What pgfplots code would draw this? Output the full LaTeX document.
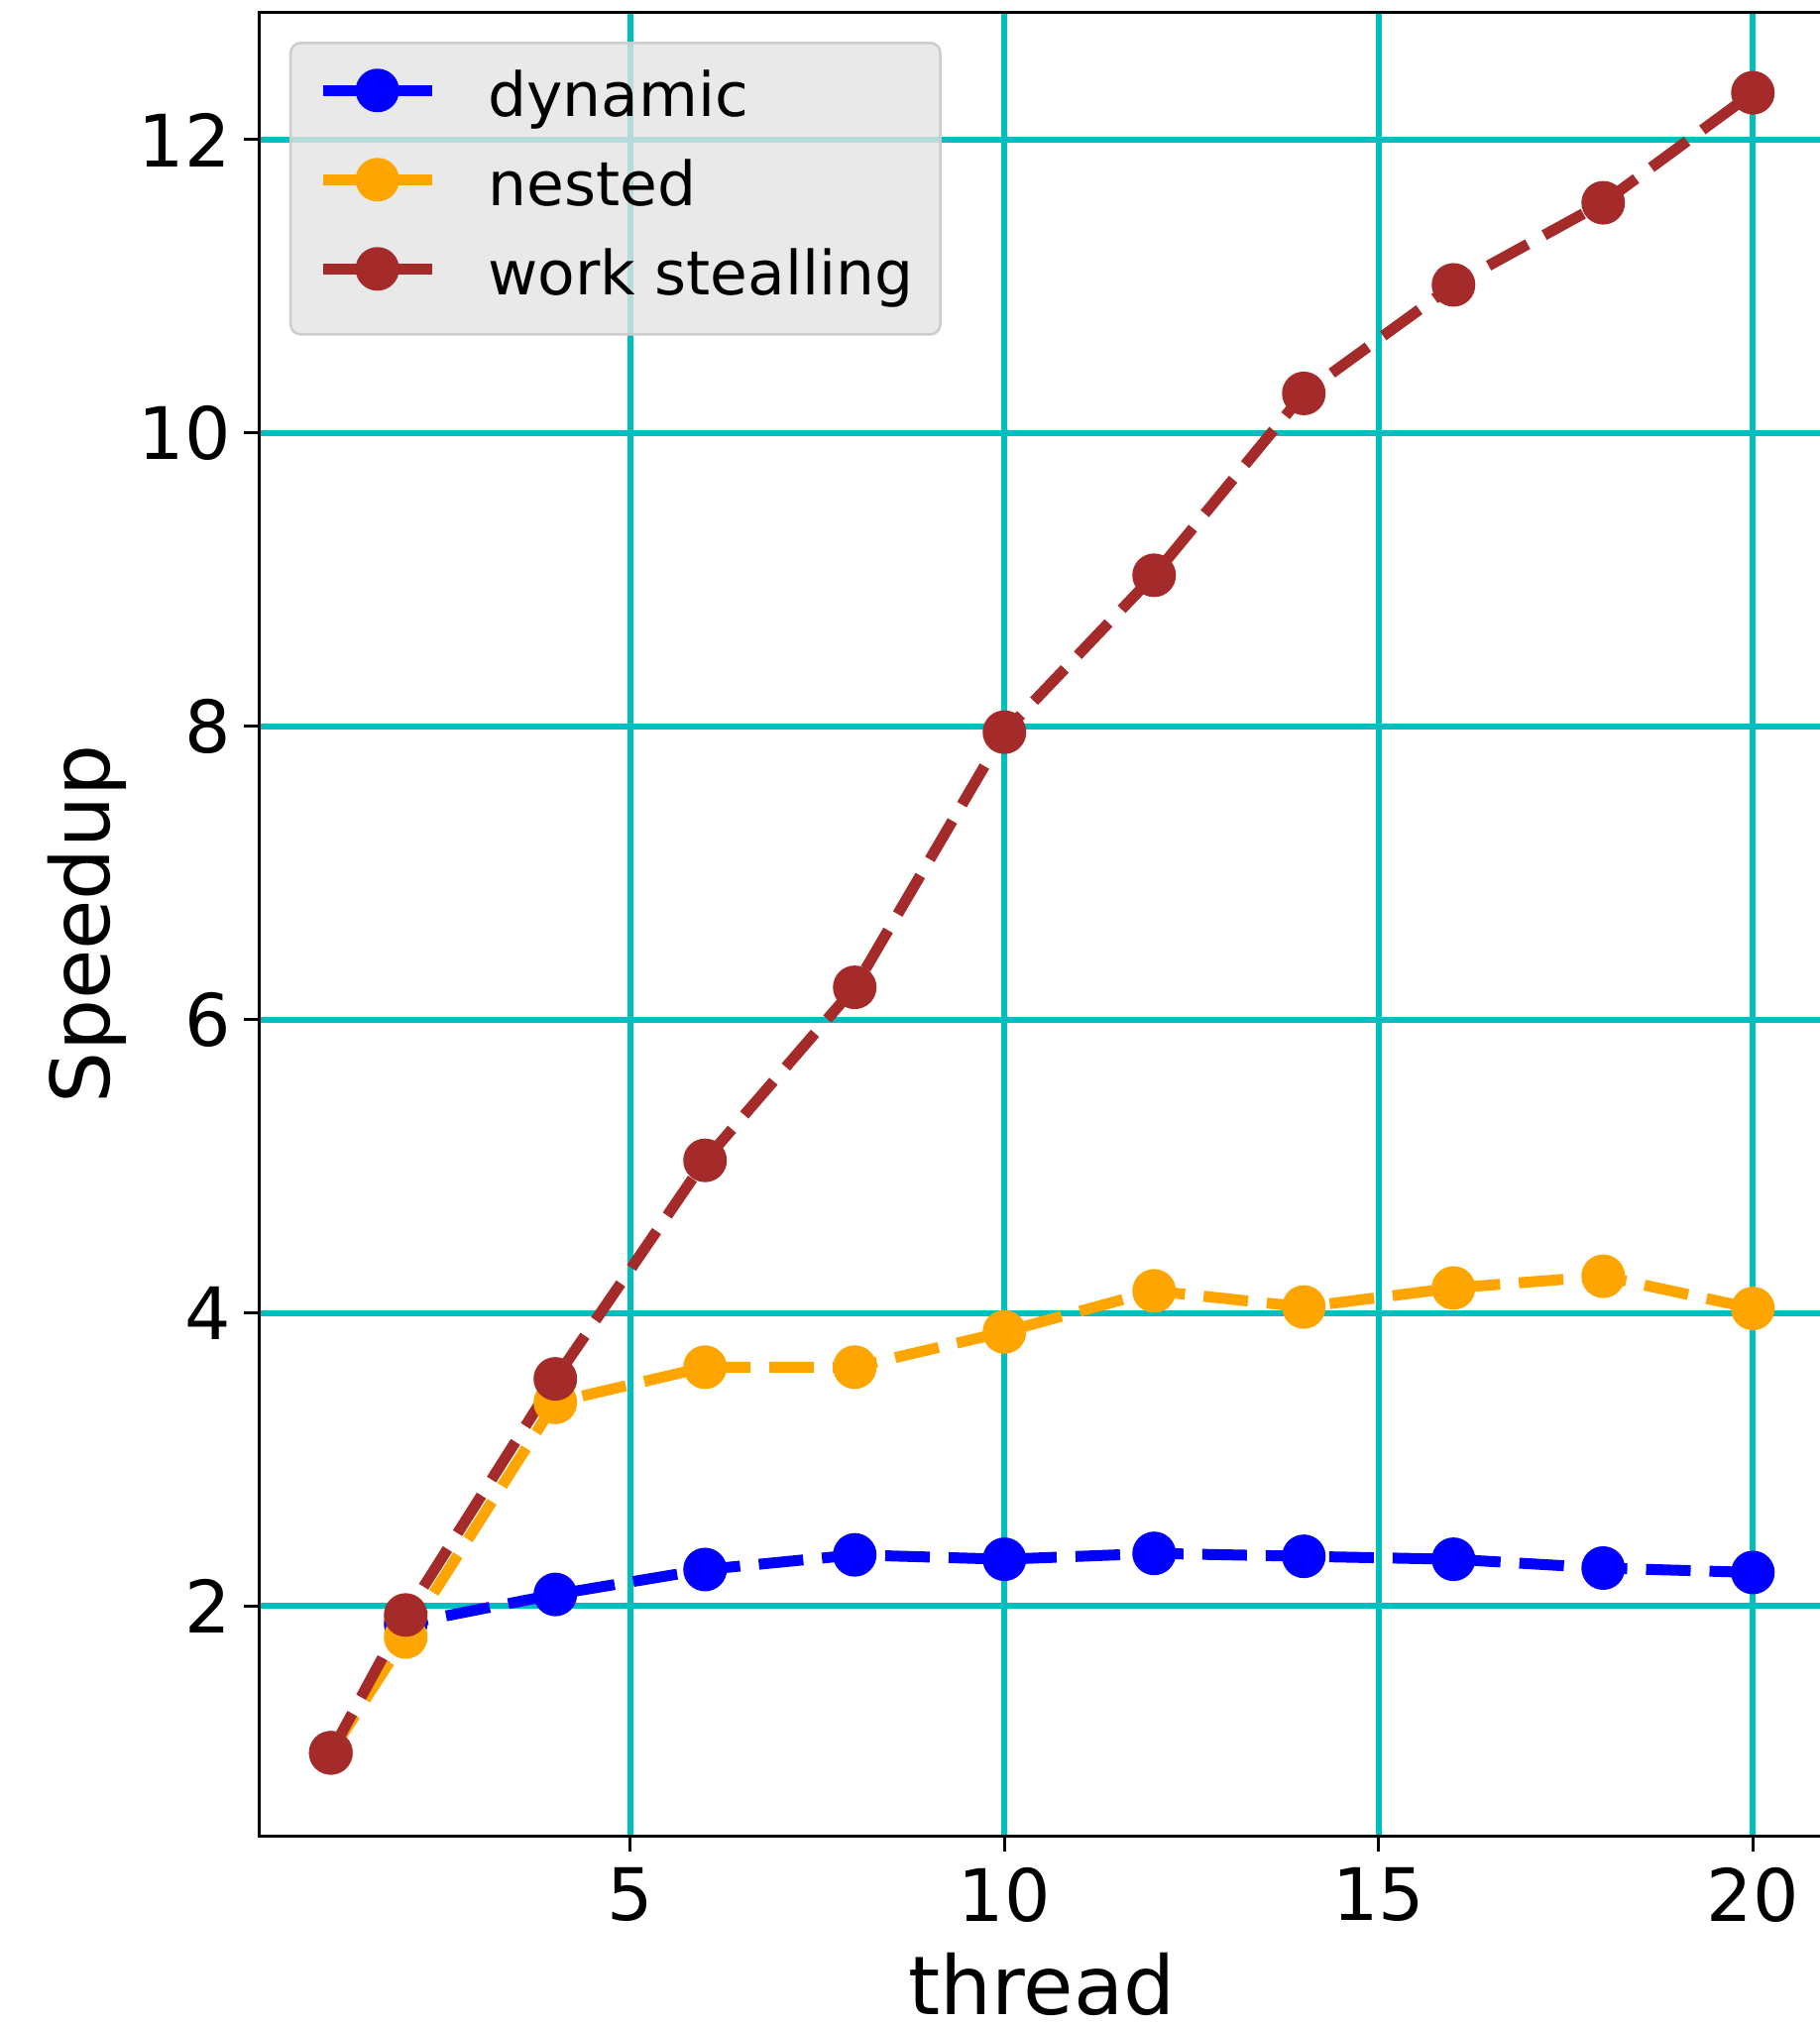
\documentclass[border=0pt]{standalone}
\usepackage{pgfplots}
\pgfplotsset{compat=1.18}
\usepackage{fontspec}
\setmainfont{DejaVu Sans}
\definecolor{gridc}{RGB}{0,191,191}
\definecolor{cblue}{RGB}{0,0,255}
\definecolor{corange}{RGB}{255,165,0}
\definecolor{cbrown}{RGB}{165,42,42}
\begin{document}
\begin{tikzpicture}
\begin{axis}[
  at={(0,0)}, anchor=south west,
  scale only axis, width=315.6pt, height=367.8pt,
  xmin=0.05, xmax=20.95, ymin=0.435, ymax=12.865,
  xtick={5,10,15,20}, ytick={2,4,6,8,10,12},
  tick pos=left, tick align=outside, major tick length=3.2pt,
  tick style={black, line width=0.6pt},
  axis line style={line width=0.6pt},
  grid=major, major grid style={draw=gridc, line width=1.2pt},
  /pgf/number format/assume math mode=true,
  tick label style={font=\fontsize{14.6}{17}\selectfont},
  xticklabel style={anchor=north, inner sep=0pt, yshift=-3.0pt},
  yticklabel style={anchor=east, inner sep=0pt, xshift=-2.5pt},
  xlabel={thread}, ylabel={Speedup},
  label style={font=\fontsize{16.4}{19}\selectfont},
  xlabel style={at={(axis description cs:0.5,-0.0984)}, anchor=base},
  ylabel style={at={(axis description cs:-0.0963,0.5)}, anchor=base},
  legend cell align=left,
  legend image code/.code={
    \draw[#1, solid, fill opacity=1, draw opacity=1] (0pt,1.8pt) -- (22pt,1.8pt);
    \draw[#1, solid, fill opacity=1, draw opacity=1, only marks] plot coordinates {(11pt,1.8pt)};
  },
  legend style={at={(0.019,0.9842)}, anchor=north west,
    fill=white!89!black, fill opacity=0.8, draw opacity=1, text opacity=1,
    draw=white!80!black, line width=0.5pt, rounded corners=2pt,
    inner xsep=5.4pt, inner ysep=5.4pt, row sep=6.0pt,
    font=\fontsize{12.3}{14}\selectfont,
    nodes={inner sep=0pt, text height=9.5pt, text depth=2.5pt},
    /tikz/every odd column/.append style={column sep=10.2pt}},
]
\addplot[color=cblue, line width=2.2pt, dash pattern=on 9pt off 3.8pt, mark=*, mark size=4.2pt, mark options={solid, line width=0.4pt}]
coordinates {(1,1.0) (2,1.88) (4,2.08) (6,2.25) (8,2.35) (10,2.32) (12,2.36) (14,2.34) (16,2.32) (18,2.26) (20,2.23)};
\addlegendentry{dynamic}
\addplot[color=corange, line width=2.2pt, dash pattern=on 9pt off 3.8pt, mark=*, mark size=4.2pt, mark options={solid, line width=0.4pt}]
coordinates {(1,1.0) (2,1.79) (4,3.39) (6,3.63) (8,3.63) (10,3.87) (12,4.15) (14,4.04) (16,4.17) (18,4.25) (20,4.03)};
\addlegendentry{nested}
\addplot[color=cbrown, line width=2.2pt, dash pattern=on 9pt off 3.8pt, mark=*, mark size=4.2pt, mark options={solid, line width=0.4pt}]
coordinates {(1,1.0) (2,1.94) (4,3.55) (6,5.04) (8,6.22) (10,7.96) (12,9.03) (14,10.27) (16,11.01) (18,11.57) (20,12.32)};
\addlegendentry{work stealling}
\end{axis}
\pgfresetboundingbox
\useasboundingbox (-52.4pt,-38.2pt) rectangle (314.6pt,370.4pt);
\end{tikzpicture}
\end{document}
